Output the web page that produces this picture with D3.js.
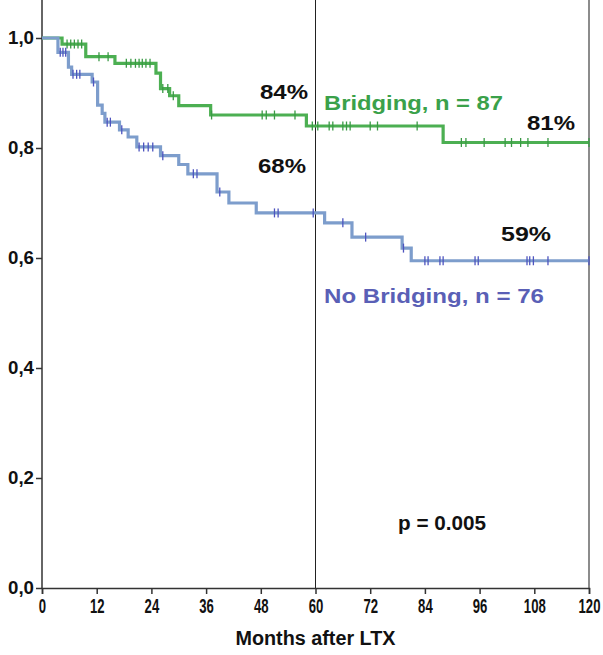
<!DOCTYPE html>
<html>
<head>
<meta charset="utf-8">
<script src="https://cdn.jsdelivr.net/npm/d3@7"></script>
<style>
  body { margin: 0; background: #fff; }
  svg { display: block; }
</style>
</head>
<body>
<svg id="chart" width="603" height="655"></svg>
<script>
// Kaplan-Meier steps (months, survival)
const bridgingTimes = [0, 4.4, 9.6, 16, 25, 26, 28, 30, 37, 58, 88];
const bridgingSurv = [1.0, 0.989, 0.966, 0.954, 0.936, 0.908, 0.895, 0.877, 0.86, 0.84, 0.81];
const bridgingCensored = [5.5, 6.3, 7.1, 7.9, 8.7, 12.5, 14.5, 18.5, 19.5, 20.5, 21.3, 22, 22.8, 23.7,
    26.5, 27.6, 28.8, 37.2, 48.3, 49.2, 51, 55.5, 59.3, 60.5, 63, 63.8, 66, 66.8, 67.6, 72, 73.6, 82.3,
    92, 93, 97, 101.6, 103, 105, 106.6, 111, 120];

const noBridgingTimes = [0, 3.5, 5.8, 6.5, 11, 12.2, 13.2, 13.8, 17, 18.9, 20.8, 26, 30, 32, 38.4, 41, 47, 62, 68, 79, 81];
const noBridgingSurv = [1.0, 0.974, 0.947, 0.934, 0.92, 0.878, 0.863, 0.847, 0.833, 0.82, 0.802, 0.786, 0.77, 0.753,
    0.72, 0.70, 0.682, 0.664, 0.638, 0.618, 0.595];
const noBridgingCensored = [4, 4.6, 5.2, 6.8, 7.6, 8.3, 11.3, 14.3, 15, 17.5, 21.3, 22.3, 23.3, 24.3, 26.5,
    33.2, 34, 39, 51, 51.8, 59.5, 66, 71, 79.3, 84, 84.7, 87.3, 88, 95, 95.7, 106.4, 107, 107.8, 111, 120];

const xTicks = [0, 12, 24, 36, 48, 60, 72, 84, 96, 108, 120];
const yTicks = [0, 0.2, 0.4, 0.6, 0.8, 1.0];

const svg = d3.select('#chart');

const xScale = d3.scaleLinear().domain([0, 120]).range([42, 589]);
const yScale = d3.scaleLinear().domain([0, 1]).range([588, 38]);
const yTop = yScale.invert(0);

const greenLine = '#4caf52';
const greenTick = '#3a9a45';
const blueLine = '#7d9dcc';
const blueTick = '#4d54bf';
const fontFamily = 'Liberation Sans, Arial, sans-serif';

// frame lines
svg.append('line')
    .attr('x1', xScale(0)).attr('x2', xScale(0))
    .attr('y1', yScale(0)).attr('y2', yScale(yTop))
    .attr('stroke', '#333').attr('stroke-width', 1.5);
svg.append('line')
    .attr('x1', xScale(120)).attr('x2', xScale(120))
    .attr('y1', yScale(0)).attr('y2', yScale(yTop))
    .attr('stroke', '#666').attr('stroke-width', 1.5);
svg.append('line')
    .attr('x1', xScale(60)).attr('x2', xScale(60))
    .attr('y1', yScale(0)).attr('y2', yScale(yTop))
    .attr('stroke', '#222').attr('stroke-width', 1);

// y axis
const yAxis = svg.append('g')
    .attr('transform', `translate(${xScale(0)},0)`)
    .call(d3.axisLeft(yScale).tickValues(yTicks).tickSize(6).tickPadding(2)
        .tickFormat(d => d3.format('.1f')(d).replace('.', ',')))
    .attr('font-size', 18)
    .attr('font-family', fontFamily)
    .attr('font-weight', 'bold');
yAxis.select('.domain').remove();
yAxis.selectAll('line').attr('stroke', '#333').attr('stroke-width', 1.5);
yAxis.selectAll('text')
    .attr('fill', '#111')
    .attr('textLength', 26)
    .attr('lengthAdjust', 'spacingAndGlyphs');

// x axis
const xAxis = svg.append('g')
    .attr('transform', `translate(0,${yScale(0)})`)
    .call(d3.axisBottom(xScale).tickValues(xTicks).tickSize(6).tickPadding(4))
    .attr('font-size', 21)
    .attr('font-family', fontFamily)
    .attr('font-weight', 'bold');
xAxis.select('.domain').attr('stroke', '#333').attr('stroke-width', 1.5);
xAxis.selectAll('line').attr('stroke', '#333').attr('stroke-width', 1.5);
xAxis.selectAll('text')
    .attr('fill', '#111')
    .attr('textLength', d => String(d).length * 7.3)
    .attr('lengthAdjust', 'spacingAndGlyphs');

svg.append('text')
    .attr('x', xScale(60))
    .attr('y', 645)
    .attr('text-anchor', 'middle')
    .attr('fill', '#111')
    .attr('textLength', 160)
    .attr('lengthAdjust', 'spacingAndGlyphs')
    .attr('font-family', fontFamily)
    .attr('font-weight', 'bold')
    .attr('font-size', 20)
    .text('Months after LTX');

// survival curves
const drawCurve = (times, surv, censored, lineColor, tickColor) => {
    const pts = times.map((t, i) => [t, surv[i]]);
    pts.push([120, surv[surv.length - 1]]);

    const line = d3.line()
        .x(d => xScale(d[0]))
        .y(d => yScale(d[1]))
        .curve(d3.curveStepAfter);

    svg.append('path')
        .attr('d', line(pts))
        .attr('fill', 'none')
        .attr('stroke', lineColor)
        .attr('stroke-width', 3.2);

    const bisect = d3.bisector(d => d).right;
    const survAt = t => surv[Math.max(0, bisect(times, t) - 1)];

    svg.append('g')
        .selectAll('line')
        .data(censored)
        .join('line')
        .attr('x1', d => xScale(d))
        .attr('x2', d => xScale(d))
        .attr('y1', d => yScale(survAt(d)) - 4.5)
        .attr('y2', d => yScale(survAt(d)) + 4.5)
        .attr('stroke', tickColor)
        .attr('stroke-width', 1.3);
};

drawCurve(bridgingTimes, bridgingSurv, bridgingCensored, greenLine, greenTick);
drawCurve(noBridgingTimes, noBridgingSurv, noBridgingCensored, blueLine, blueTick);

// annotations
const addLabel = (txt, x, y, color, len) => {
    svg.append('text')
        .attr('x', x)
        .attr('y', y)
        .attr('fill', color)
        .attr('textLength', len)
        .attr('lengthAdjust', 'spacingAndGlyphs')
        .attr('font-family', fontFamily)
        .attr('font-weight', 'bold')
        .attr('font-size', 20)
        .text(txt);
};

addLabel('84%', 260, 99, '#111', 48);
addLabel('Bridging, n = 87', 324, 110, '#3aa14a', 179);
addLabel('81%', 527, 130, '#111', 48);
addLabel('68%', 258, 173, '#111', 48);
addLabel('59%', 501, 241, '#111', 50);
addLabel('No Bridging, n = 76', 324, 303, '#5a5fb6', 220);
addLabel('p = 0.005', 398, 530, '#111', 88);
</script>
</body>
</html>
